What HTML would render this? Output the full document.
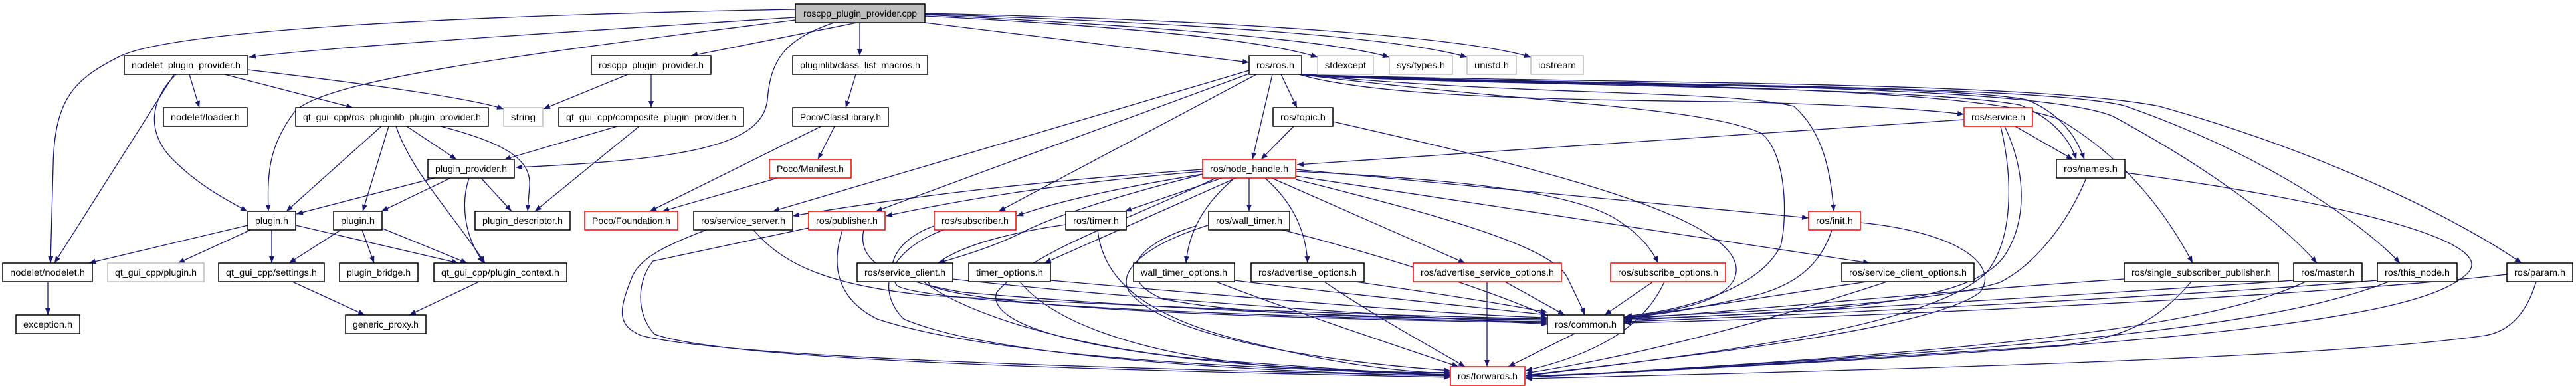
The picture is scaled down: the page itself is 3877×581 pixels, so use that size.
<!DOCTYPE html>
<html><head><meta charset="utf-8"><style>
html,body{margin:0;padding:0;background:#fff;}
svg{display:block;}
text{font-family:"Liberation Sans",sans-serif;font-size:14px;fill:#000;}
.e{fill:none;stroke:#191970;stroke-width:1.3;marker-end:url(#a);}
.b{fill:#fff;stroke:#000;stroke-width:1.5;}
.r{fill:#fff;stroke:#ff0000;stroke-width:1.5;}
.g{fill:#fff;stroke:#bfbfbf;stroke-width:1.5;}
.c{fill:#bfbfbf;stroke:#000;stroke-width:1.5;}
</style></head><body>
<svg width="3877" height="581" viewBox="0 0 3877 581" xmlns="http://www.w3.org/2000/svg">
<defs><marker id="a" markerUnits="userSpaceOnUse" markerWidth="11" markerHeight="9" refX="10" refY="4" orient="auto"><path d="M0,0 L10,4 L0,8 z" fill="#191970"/></marker></defs>
<g>
<path class="e" d="M1197,26 C900,45 500,70 375,86"/>
<path class="e" d="M1197,14 C600,25 250,50 180,85 C110,120 82,150 80,250 L76,396"/>
<path class="e" d="M1197,30 C800,80 480,120 442,170 C405,220 402,260 404,318"/>
<path class="e" d="M1290,34 L1040,84"/>
<path class="e" d="M1255,34 C1180,60 1160,90 1155,150 C1148,215 1050,240 776,252"/>
<path class="e" d="M1294,34 L1294,84"/>
<path class="e" d="M1392,34 L1880,94"/>
<path class="e" d="M1392,24 C1700,40 1900,60 1983,86"/>
<path class="e" d="M1392,22 C1750,40 2000,60 2091,86"/>
<path class="e" d="M1392,21 C1800,35 2100,55 2208,86"/>
<path class="e" d="M1392,20 C1850,30 2200,55 2304,86"/>
<path class="e" d="M285,112 L300,162"/>
<path class="e" d="M338,112 L531,162"/>
<path class="e" d="M373,105 C500,120 700,145 758,164"/>
<path class="e" d="M265,112 C225,150 220,200 260,240 C300,280 340,300 372,318"/>
<path class="e" d="M262,112 L82,396"/>
<path class="e" d="M945,112 L818,164"/>
<path class="e" d="M980,112 L980,162"/>
<path class="e" d="M574,190 L431,318"/>
<path class="e" d="M585,190 L546,318"/>
<path class="e" d="M596,190 C620,260 680,320 730,396"/>
<path class="e" d="M612,190 L687,240"/>
<path class="e" d="M663,190 C760,215 800,240 797,280 L794,318"/>
<path class="e" d="M929,190 L759,240"/>
<path class="e" d="M962,190 L805,318"/>
<path class="e" d="M654,268 L446,322"/>
<path class="e" d="M678,268 L574,318"/>
<path class="e" d="M724,268 L770,318"/>
<path class="e" d="M706,268 C695,300 695,350 728,396"/>
<path class="e" d="M373,339 L134,396"/>
<path class="e" d="M377,346 L268,396"/>
<path class="e" d="M409,346 L409,396"/>
<path class="e" d="M445,339 L690,396"/>
<path class="e" d="M513,346 L435,396"/>
<path class="e" d="M545,346 L563,396"/>
<path class="e" d="M576,344 L703,396"/>
<path class="e" d="M72,424 L72,474"/>
<path class="e" d="M440,424 L549,474"/>
<path class="e" d="M721,424 L616,474"/>
<path class="e" d="M1288,112 L1273,162"/>
<path class="e" d="M1236,190 L978,318"/>
<path class="e" d="M1256,190 L1231,240"/>
<path class="e" d="M1170,268 L997,318"/>
<path class="e" d="M1880,106 L1163,318"/>
<path class="e" d="M1880,111 L1318,318"/>
<path class="e" d="M1891,112 L1503,318"/>
<path class="e" d="M1915,112 L1885,240"/>
<path class="e" d="M1928,112 L1952,162"/>
<path class="e" d="M1955,112 C2050,140 2250,150 2600,153 C2800,158 2900,165 2956,172"/>
<path class="e" d="M1957,112 C2200,132 2900,122 3050,150 C3100,170 3125,205 3137,240"/>
<path class="e" d="M1957,112 C2200,130 2880,128 3040,158 C3090,178 3115,210 3125,240"/>
<path class="e" d="M1955,112 C2300,145 2600,135 2700,160 C2745,200 2755,260 2760,318"/>
<path class="e" d="M1958,112 C2200,130 2950,120 3100,180 C3200,240 3260,320 3300,396"/>
<path class="e" d="M1958,112 C2250,130 3050,120 3180,175 C3300,240 3420,320 3487,396"/>
<path class="e" d="M1958,112 C2300,128 3080,125 3200,160 C3400,230 3550,330 3612,396"/>
<path class="e" d="M1958,112 C2350,126 3050,120 3250,160 C3500,230 3700,330 3795,396"/>
<path class="e" d="M1955,112 C2300,155 2560,160 2650,200 C2690,230 2690,330 2680,370 C2650,430 2550,465 2446,476"/>
<path class="e" d="M1947,190 L1898,240"/>
<path class="e" d="M2006,183 C2300,250 2650,330 2610,420 C2590,460 2500,470 2446,478"/>
<path class="e" d="M2956,180 L1952,248"/>
<path class="e" d="M3033,190 L3120,240"/>
<path class="e" d="M3017,190 C3050,260 3050,330 3020,380 C2980,450 2800,470 2446,480"/>
<path class="e" d="M3011,190 C3030,270 3030,360 2990,410 C2900,500 2500,540 2296,566"/>
<path class="e" d="M3140,268 C3110,340 3060,400 3010,425 C2900,460 2600,470 2446,478"/>
<path class="e" d="M3199,260 C3500,300 3760,360 3715,410 C3650,480 3300,520 2296,568"/>
<path class="e" d="M1810,255 C1600,270 1400,290 1193,325"/>
<path class="e" d="M1810,258 C1600,275 1450,300 1333,325"/>
<path class="e" d="M1810,262 C1700,280 1600,300 1530,325"/>
<path class="e" d="M1812,262 C1700,290 1600,320 1546,346 C1500,370 1450,385 1412,396"/>
<path class="e" d="M1839,268 L1693,318"/>
<path class="e" d="M1860,268 L1572,396"/>
<path class="e" d="M1880,268 L1880,318"/>
<path class="e" d="M1858,268 C1820,300 1790,340 1785,396"/>
<path class="e" d="M1904,268 C1940,300 1965,340 1968,396"/>
<path class="e" d="M1914,268 L2205,396"/>
<path class="e" d="M1950,258 C2200,270 2380,290 2440,335 C2470,355 2485,375 2496,396"/>
<path class="e" d="M1950,265 L2814,396"/>
<path class="e" d="M1950,255 L2722,328"/>
<path class="e" d="M1950,270 C2150,320 2340,370 2360,420 C2372,445 2380,460 2385,474"/>
<path class="e" d="M1830,268 C1700,330 1550,380 1500,440 C1480,500 1700,550 2183,565"/>
<path class="e" d="M1134,346 C1180,400 1250,430 1400,445 C1800,465 2100,475 2329,480"/>
<path class="e" d="M1063,346 C1000,370 960,390 950,420 C930,470 930,490 965,505 C1100,540 1700,555 2183,566"/>
<path class="e" d="M1217,343 L983,393 C960,420 955,470 985,503 C1100,545 1700,558 2183,568"/>
<path class="e" d="M1268,346 C1250,400 1260,450 1320,480 C1500,540 1900,555 2183,564"/>
<path class="e" d="M1300,346 C1290,390 1330,420 1450,440 C1800,470 2100,478 2329,482"/>
<path class="e" d="M1406,340 C1350,360 1330,400 1350,430 C1400,460 2000,480 2329,484"/>
<path class="e" d="M1420,346 C1330,380 1320,440 1360,480 C1500,540 1900,560 2183,566"/>
<path class="e" d="M1604,338 C1450,360 1380,400 1400,430 C1500,470 2000,480 2329,486"/>
<path class="e" d="M1652,346 C1660,420 1720,480 1900,520 C2000,545 2100,560 2183,562"/>
<path class="e" d="M1434,420 C1700,450 2100,475 2329,488"/>
<path class="e" d="M1390,424 C1450,470 1600,520 1800,540 C2000,555 2100,562 2183,564"/>
<path class="e" d="M1581,422 C1900,450 2200,475 2329,478"/>
<path class="e" d="M1535,424 C1580,480 1700,530 1900,550 C2050,560 2150,562 2183,560"/>
<path class="e" d="M1800,340 C1700,370 1680,420 1750,450 C1900,480 2200,480 2329,480"/>
<path class="e" d="M1930,346 C2100,390 2250,440 2330,476"/>
<path class="e" d="M1818,339 C1720,370 1680,410 1700,440 C1760,510 2000,545 2183,558"/>
<path class="e" d="M1858,422 C2000,440 2200,460 2329,474"/>
<path class="e" d="M1830,424 C1950,470 2100,520 2195,552"/>
<path class="e" d="M2040,424 C2150,440 2250,455 2329,470"/>
<path class="e" d="M1993,424 C2060,470 2150,520 2205,552"/>
<path class="e" d="M2238,424 L2238,552"/>
<path class="e" d="M2265,424 L2355,474"/>
<path class="e" d="M2488,424 L2415,474"/>
<path class="e" d="M2505,424 C2480,480 2420,530 2296,558"/>
<path class="e" d="M2810,424 C2700,440 2550,465 2444,478"/>
<path class="e" d="M2840,424 C2700,470 2500,530 2296,562"/>
<path class="e" d="M2757,346 C2740,400 2700,430 2640,445 C2550,465 2500,474 2444,478"/>
<path class="e" d="M2800,335 C2950,350 3010,400 2980,440 C2900,500 2500,540 2296,565"/>
<path class="e" d="M3197,420 C2900,440 2600,470 2444,480"/>
<path class="e" d="M3298,424 C3250,480 3200,510 3100,520 C2800,540 2500,560 2296,566"/>
<path class="e" d="M3452,422 C3200,440 2700,470 2444,482"/>
<path class="e" d="M3470,424 C3350,480 3100,525 2296,568"/>
<path class="e" d="M3578,422 C3300,445 2700,475 2444,484"/>
<path class="e" d="M3595,424 C3450,480 3200,520 2296,568"/>
<path class="e" d="M3773,413 C3500,445 2800,478 2444,486"/>
<path class="e" d="M3817,424 C3800,480 3770,500 3740,505 C3500,540 2800,558 2296,570"/>
<path class="e" d="M2370,502 L2270,552"/>
</g>
<g>
<rect class="c" x="1197" y="6" width="195" height="28"/><text x="1209" y="25" textLength="171" lengthAdjust="spacingAndGlyphs">roscpp_plugin_provider.cpp</text>
<rect class="b" x="187" y="84" width="186" height="28"/><text x="198" y="103" textLength="164" lengthAdjust="spacingAndGlyphs">nodelet_plugin_provider.h</text>
<rect class="b" x="890" y="84" width="180" height="28"/><text x="901" y="103" textLength="158" lengthAdjust="spacingAndGlyphs">roscpp_plugin_provider.h</text>
<rect class="b" x="1193" y="84" width="203" height="28"/><text x="1204" y="103" textLength="181" lengthAdjust="spacingAndGlyphs">pluginlib/class_list_macros.h</text>
<rect class="b" x="1880" y="84" width="79" height="28"/><text x="1891" y="103" textLength="57" lengthAdjust="spacingAndGlyphs">ros/ros.h</text>
<rect class="g" x="1983" y="84" width="84" height="28"/><text x="1994" y="103" textLength="62" lengthAdjust="spacingAndGlyphs">stdexcept</text>
<rect class="g" x="2091" y="84" width="95" height="28"/><text x="2102" y="103" textLength="73" lengthAdjust="spacingAndGlyphs">sys/types.h</text>
<rect class="g" x="2208" y="84" width="74" height="28"/><text x="2219" y="103" textLength="52" lengthAdjust="spacingAndGlyphs">unistd.h</text>
<rect class="g" x="2304" y="84" width="79" height="28"/><text x="2315" y="103" textLength="57" lengthAdjust="spacingAndGlyphs">iostream</text>
<rect class="b" x="246" y="162" width="126" height="28"/><text x="257" y="181" textLength="104" lengthAdjust="spacingAndGlyphs">nodelet/loader.h</text>
<rect class="b" x="445" y="162" width="290" height="28"/><text x="456" y="181" textLength="268" lengthAdjust="spacingAndGlyphs">qt_gui_cpp/ros_pluginlib_plugin_provider.h</text>
<rect class="g" x="758" y="162" width="59" height="28"/><text x="769" y="181" textLength="37" lengthAdjust="spacingAndGlyphs">string</text>
<rect class="b" x="841" y="162" width="278" height="28"/><text x="852" y="181" textLength="256" lengthAdjust="spacingAndGlyphs">qt_gui_cpp/composite_plugin_provider.h</text>
<rect class="b" x="1193" y="162" width="144" height="28"/><text x="1204" y="181" textLength="122" lengthAdjust="spacingAndGlyphs">Poco/ClassLibrary.h</text>
<rect class="b" x="1916" y="162" width="90" height="28"/><text x="1927" y="181" textLength="68" lengthAdjust="spacingAndGlyphs">ros/topic.h</text>
<rect class="r" x="2956" y="162" width="103" height="28"/><text x="2967" y="181" textLength="81" lengthAdjust="spacingAndGlyphs">ros/service.h</text>
<rect class="b" x="644" y="240" width="130" height="28"/><text x="655" y="259" textLength="108" lengthAdjust="spacingAndGlyphs">plugin_provider.h</text>
<rect class="r" x="1158" y="240" width="123" height="28"/><text x="1169" y="259" textLength="101" lengthAdjust="spacingAndGlyphs">Poco/Manifest.h</text>
<rect class="r" x="1810" y="240" width="140" height="28"/><text x="1821" y="259" textLength="118" lengthAdjust="spacingAndGlyphs">ros/node_handle.h</text>
<rect class="b" x="3095" y="240" width="103" height="28"/><text x="3106" y="259" textLength="81" lengthAdjust="spacingAndGlyphs">ros/names.h</text>
<rect class="b" x="373" y="318" width="72" height="28"/><text x="384" y="337" textLength="50" lengthAdjust="spacingAndGlyphs">plugin.h</text>
<rect class="b" x="502" y="318" width="73" height="28"/><text x="513" y="337" textLength="51" lengthAdjust="spacingAndGlyphs">plugin.h</text>
<rect class="b" x="715" y="318" width="143" height="28"/><text x="726" y="337" textLength="121" lengthAdjust="spacingAndGlyphs">plugin_descriptor.h</text>
<rect class="r" x="880" y="318" width="140" height="28"/><text x="891" y="337" textLength="118" lengthAdjust="spacingAndGlyphs">Poco/Foundation.h</text>
<rect class="b" x="1044" y="318" width="149" height="28"/><text x="1055" y="337" textLength="127" lengthAdjust="spacingAndGlyphs">ros/service_server.h</text>
<rect class="r" x="1217" y="318" width="115" height="28"/><text x="1228" y="337" textLength="93" lengthAdjust="spacingAndGlyphs">ros/publisher.h</text>
<rect class="r" x="1406" y="318" width="123" height="28"/><text x="1417" y="337" textLength="101" lengthAdjust="spacingAndGlyphs">ros/subscriber.h</text>
<rect class="b" x="1604" y="318" width="91" height="28"/><text x="1615" y="337" textLength="69" lengthAdjust="spacingAndGlyphs">ros/timer.h</text>
<rect class="b" x="1819" y="318" width="122" height="28"/><text x="1830" y="337" textLength="100" lengthAdjust="spacingAndGlyphs">ros/wall_timer.h</text>
<rect class="r" x="2722" y="318" width="78" height="28"/><text x="2733" y="337" textLength="56" lengthAdjust="spacingAndGlyphs">ros/init.h</text>
<rect class="b" x="4" y="396" width="135" height="28"/><text x="15" y="415" textLength="113" lengthAdjust="spacingAndGlyphs">nodelet/nodelet.h</text>
<rect class="g" x="162" y="396" width="145" height="28"/><text x="173" y="415" textLength="123" lengthAdjust="spacingAndGlyphs">qt_gui_cpp/plugin.h</text>
<rect class="b" x="329" y="396" width="159" height="28"/><text x="340" y="415" textLength="137" lengthAdjust="spacingAndGlyphs">qt_gui_cpp/settings.h</text>
<rect class="b" x="511" y="396" width="118" height="28"/><text x="522" y="415" textLength="96" lengthAdjust="spacingAndGlyphs">plugin_bridge.h</text>
<rect class="b" x="653" y="396" width="200" height="28"/><text x="664" y="415" textLength="178" lengthAdjust="spacingAndGlyphs">qt_gui_cpp/plugin_context.h</text>
<rect class="b" x="1290" y="396" width="144" height="28"/><text x="1301" y="415" textLength="122" lengthAdjust="spacingAndGlyphs">ros/service_client.h</text>
<rect class="b" x="1458" y="396" width="123" height="28"/><text x="1469" y="415" textLength="101" lengthAdjust="spacingAndGlyphs">timer_options.h</text>
<rect class="b" x="1706" y="396" width="152" height="28"/><text x="1717" y="415" textLength="130" lengthAdjust="spacingAndGlyphs">wall_timer_options.h</text>
<rect class="b" x="1883" y="396" width="170" height="28"/><text x="1894" y="415" textLength="148" lengthAdjust="spacingAndGlyphs">ros/advertise_options.h</text>
<rect class="r" x="2127" y="396" width="223" height="28"/><text x="2138" y="415" textLength="201" lengthAdjust="spacingAndGlyphs">ros/advertise_service_options.h</text>
<rect class="r" x="2424" y="396" width="173" height="28"/><text x="2435" y="415" textLength="151" lengthAdjust="spacingAndGlyphs">ros/subscribe_options.h</text>
<rect class="b" x="2772" y="396" width="199" height="28"/><text x="2783" y="415" textLength="177" lengthAdjust="spacingAndGlyphs">ros/service_client_options.h</text>
<rect class="b" x="3197" y="396" width="232" height="28"/><text x="3208" y="415" textLength="210" lengthAdjust="spacingAndGlyphs">ros/single_subscriber_publisher.h</text>
<rect class="b" x="3452" y="396" width="103" height="28"/><text x="3463" y="415" textLength="81" lengthAdjust="spacingAndGlyphs">ros/master.h</text>
<rect class="b" x="3578" y="396" width="120" height="28"/><text x="3589" y="415" textLength="98" lengthAdjust="spacingAndGlyphs">ros/this_node.h</text>
<rect class="b" x="3773" y="396" width="99" height="28"/><text x="3784" y="415" textLength="77" lengthAdjust="spacingAndGlyphs">ros/param.h</text>
<rect class="b" x="24" y="474" width="96" height="28"/><text x="35" y="493" textLength="74" lengthAdjust="spacingAndGlyphs">exception.h</text>
<rect class="b" x="520" y="474" width="121" height="28"/><text x="531" y="493" textLength="99" lengthAdjust="spacingAndGlyphs">generic_proxy.h</text>
<rect class="b" x="2329" y="474" width="115" height="28"/><text x="2340" y="493" textLength="93" lengthAdjust="spacingAndGlyphs">ros/common.h</text>
<rect class="r" x="2183" y="552" width="112" height="28"/><text x="2194" y="571" textLength="90" lengthAdjust="spacingAndGlyphs">ros/forwards.h</text>
</g>
</svg>
</body></html>
